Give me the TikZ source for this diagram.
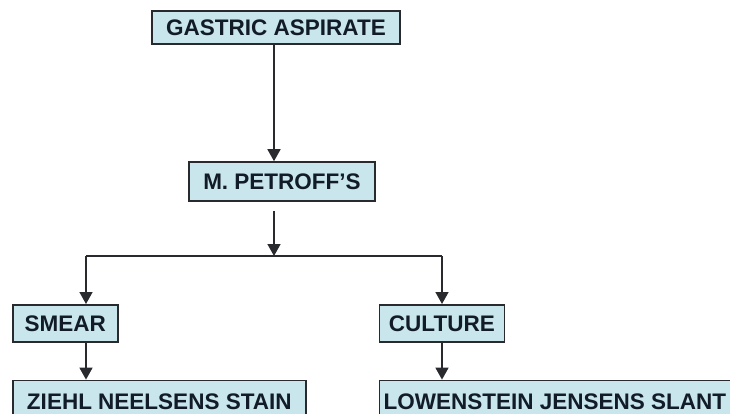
\documentclass[tikz,border=0pt]{standalone}
\usepackage{fontspec}
\setmainfont{Liberation Sans}
\usepackage{tikz}
\usetikzlibrary{arrows,arrows.meta,positioning}
\usepackage{xcolor}
\definecolor{boxfill}{RGB}{201,230,236}
\definecolor{boxline}{RGB}{40,42,46}
\definecolor{boxtext}{RGB}{18,28,40}
\tikzstyle{arrow} = [line width=1.6pt,-{Triangle[width=13pt,length=12pt]},color=boxline]
\tikzstyle{line} = [line width=1.6pt,color=boxline]
\tikzstyle{stage} = [rectangle, draw=boxline, fill=boxfill, line width=1.6pt, inner sep=0pt, text=boxtext, font=\fontsize{22.5}{25}\selectfont\bfseries]

\begin{document}
\begin{tikzpicture}[x=1pt, y=1pt]
\clip (0,0) rectangle (730,-414);
\useasboundingbox (0,0) rectangle (730,-414);

% Sample
\node (gastric) [stage, minimum width=248pt, minimum height=33pt] at (276,-27.5) {GASTRIC ASPIRATE};

% Concentration
\node (petroff) [stage, below of=gastric, node distance=154pt, xshift=6pt, minimum width=186pt, minimum height=39pt] {M. PETROFF’S};

% Two branches
\node (smear) [stage, anchor=north west, minimum width=105pt, minimum height=37pt] at (12,-304) {SMEAR};
\node (culture) [stage, right=260pt of smear, minimum width=125pt, minimum height=37pt] {CULTURE};

\node (ziehl) [stage, below=37pt of smear.south west, anchor=north west, minimum width=293pt, minimum height=42pt] {ZIEHL NEELSENS STAIN};
\node (lowenstein) [stage, below=37pt of culture.south west, anchor=north west, minimum width=351pt, minimum height=42pt] {LOWENSTEIN JENSENS SLANT};

% Connectors
\coordinate (split) at (274,-256);
\coordinate (lsplit) at (86,-256);
\coordinate (rsplit) at (442,-256);

\draw[arrow] (gastric.south -| split) -- (petroff.north -| split);
\draw[arrow, shorten <=9pt] (petroff.south -| split) -- (split);
\draw[line] (lsplit) -- (rsplit);
\draw[arrow] (lsplit) -- (lsplit |- smear.north);
\draw[arrow] (rsplit) -- (rsplit |- culture.north);
\draw[arrow] (lsplit |- smear.south) -- (lsplit |- ziehl.north);
\draw[arrow] (rsplit |- culture.south) -- (rsplit |- lowenstein.north);

\end{tikzpicture}
\end{document}
